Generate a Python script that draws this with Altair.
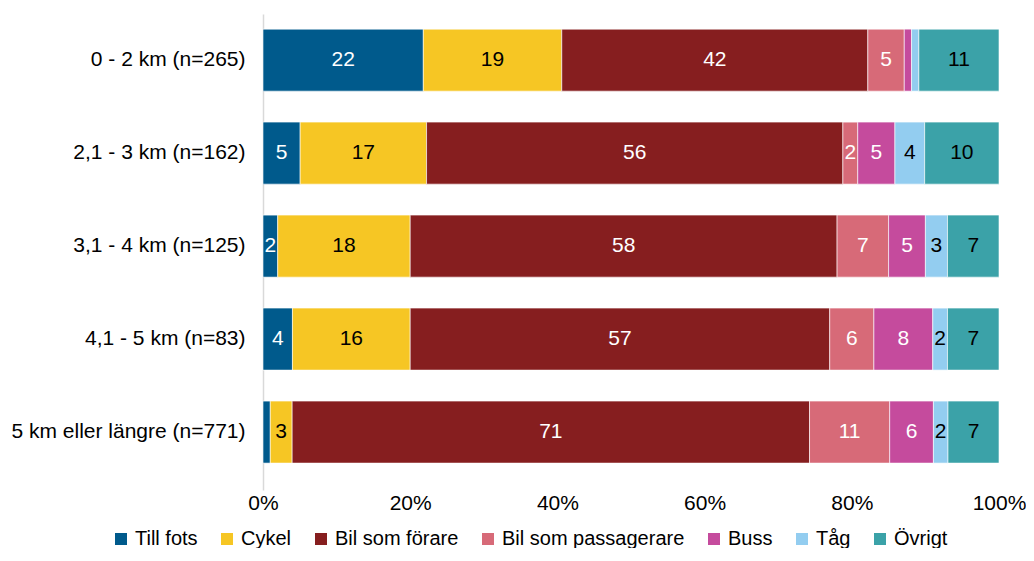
import altair as alt
import pandas as pd

categories = ["0 - 2 km (n=265)", "2,1 - 3 km (n=162)", "3,1 - 4 km (n=125)",
              "4,1 - 5 km (n=83)", "5 km eller längre (n=771)"]
series = ["Till fots", "Cykel", "Bil som förare", "Bil som passagerare", "Buss", "Tåg", "Övrigt"]
colors = ["#005A8C", "#F6C624", "#861E1F", "#D76A78", "#C54B9D", "#93CDF0", "#3BA2A8"]
label_colors = ["white", "black", "white", "white", "white", "black", "black"]

till_fots = [22, 5, 2, 4, 1]
cykel = [19, 17, 18, 16, 3]
bil_forare = [42, 56, 58, 57, 71]
bil_passagerare = [5, 2, 7, 6, 11]
buss = [1, 5, 5, 8, 6]
tag = [1, 4, 3, 2, 2]
ovrigt = [11, 10, 7, 7, 7]

values = [till_fots, cykel, bil_forare, bil_passagerare, buss, tag, ovrigt]

rows = []
for si, s in enumerate(series):
    for ci, c in enumerate(categories):
        v = values[si][ci]
        rows.append({"cat": c, "series": s, "order": si, "value": v,
                     "label": str(v) if v >= 2 else "", "lc": label_colors[si]})
df = pd.DataFrame(rows)

FONT = "Liberation Sans"
FS = 21

base = alt.Chart(df).transform_stack(
    stack="value", groupby=["cat"], sort=[alt.SortField("order", "ascending")],
    offset="normalize", as_=["x0", "x1"]
).transform_calculate(mid="(datum.x0 + datum.x1) / 2")

y_enc = alt.Y("cat:N", sort=categories, title=None,
              scale=alt.Scale(paddingInner=0.333, paddingOuter=0.226, align=0.36),
              axis=alt.Axis(labelFont=FONT, labelFontSize=FS, labelColor="black",
                            ticks=False, domainColor="#D9D9D9", domainWidth=1.5,
                            labelPadding=18, labelLimit=400))

bars = base.mark_bar(stroke="white", strokeWidth=0.6).encode(
    x=alt.X("x0:Q", title=None,
            scale=alt.Scale(domain=[0, 1], nice=False),
            axis=alt.Axis(format="%", values=[0, 0.2, 0.4, 0.6, 0.8, 1.0],
                          labelFont=FONT, labelFontSize=FS, labelColor="black",
                          domain=False, ticks=False, grid=False, labelPadding=2,
                          labelFlush=False)),
    x2="x1:Q",
    y=y_enc,
    color=alt.Color("series:N", sort=series,
                    scale=alt.Scale(domain=series, range=colors),
                    legend=alt.Legend(title=None, orient="none", direction="horizontal",
                                      legendX=-152, legendY=515, columns=7,
                                      gridAlign="each",
                                      symbolType="square", symbolSize=144,
                                      symbolStrokeWidth=0, labelLimit=400,
                                      labelFont=FONT, labelFontSize=20, labelColor="black",
                                      labelOffset=4, columnPadding=19)),
    order=alt.Order("order:Q"),
)

texts = base.mark_text(font=FONT, fontSize=FS).encode(
    x=alt.X("mid:Q"),
    y=alt.Y("cat:N", sort=categories),
    text="label:N",
    color=alt.Color("lc:N", scale=None),
)

chart = alt.layer(bars, texts).properties(
    width=736, height=476,
    autosize=alt.AutoSizeParams(type="none"),
    padding={"left": 255, "top": 6, "right": 27, "bottom": 58},
).configure_view(stroke=None)

chart.save("out.html", embed_options={"renderer": "svg", "actions": False})
